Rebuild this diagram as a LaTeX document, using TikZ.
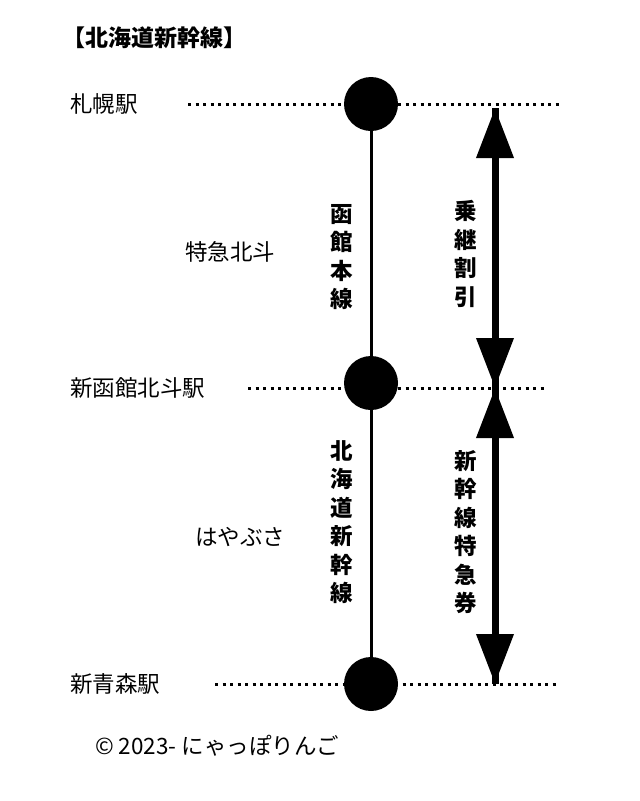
\documentclass[tikz,border=0pt]{standalone}
\usepackage{fontspec}
\newfontfamily\jp{Noto Sans CJK JP}
\usetikzlibrary{arrows.meta}
\begin{document}
\begin{tikzpicture}[x=1pt,y=-1pt,
  lbl/.style={font=\jp\fontsize{22.5}{22.5}\selectfont,anchor=west,inner sep=0},
  vlbl/.style={font=\jp\bfseries\fontsize{22.5}{28.5}\selectfont,align=center,inner sep=0},
  dots/.style={line width=3pt,dash pattern=on 3pt off 4.5pt},
  stn/.style={circle,fill=black,minimum size=54pt,inner sep=0},
  big/.style={line width=7pt,-{Triangle[length=50pt,width=36pt]}}]
\useasboundingbox[fill=white] (0,0) rectangle (640,801);
\node[lbl,font=\jp\bfseries\fontsize{23}{23}\selectfont] (t) at (62,38) {【北海道新幹線】};
\node[lbl] (s1) at (70,104) {札幌駅};
\node[lbl] (s2) at (70,388) {新函館北斗駅};
\node[lbl] (s3) at (70,684) {新青森駅};
\node[lbl] (l1) at (185,252) {特急北斗};
\node[lbl] (l2) at (195,537) {はやぶさ};
\coordinate (a1) at (188,104); \coordinate (b1) at (560,104);
\coordinate (a2) at (248,388); \coordinate (b2) at (545,388);
\coordinate (a3) at (215,684); \coordinate (b3) at (560,684);
\draw[dots] (a1) -- (b1); \draw[dots] (a2) -- (b2); \draw[dots] (a3) -- (b3);
\node[stn] (c1) at (371,104) {};
\node[stn] (c2) at (371,383) {};
\node[stn] (c3) at (371,684) {};
\draw[line width=3pt] (c1) -- (c2) -- (c3);
\node[vlbl] (v1) at (342,257) {函\\館\\本\\線};
\node[vlbl] (v2) at (342,522) {北\\海\\道\\新\\幹\\線};
\coordinate (m) at (495,388);
\coordinate (p1) at (495,108); \coordinate (p2) at (495,684);
\draw[big] (m) -- (p1); \draw[big] (p1) -- (m);
\draw[big] (m) -- (p2); \draw[big] (p2) -- (m);
\node[vlbl] (v3) at (466,254) {乗\\継\\割\\引};
\node[vlbl] (v4) at (466,532) {新\\幹\\線\\特\\急\\券};
\node[lbl] (cp) at (95,746) {© 2023- にゃっぽりんご};
\end{tikzpicture}
\end{document}
